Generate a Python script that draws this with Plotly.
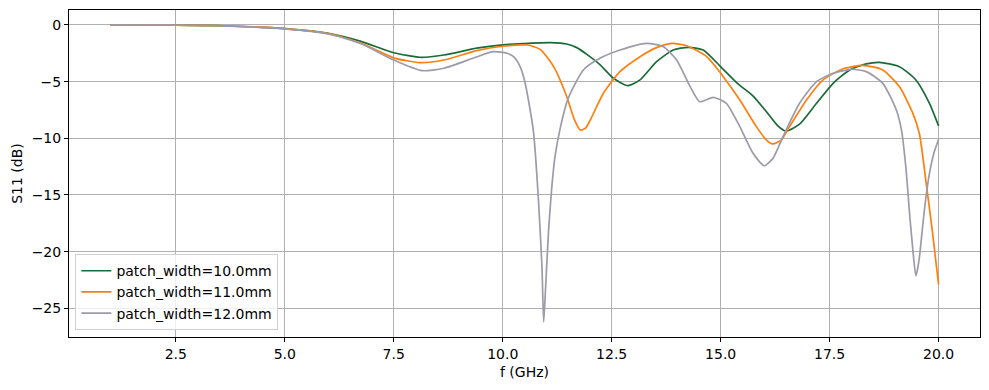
import plotly.graph_objects as go

# Frequency points (GHz) and S11 (dB) for each patch width
f_10 = [1.0, 2.5, 3.7, 5.0, 6.0, 6.75, 7.5, 8.1, 8.65, 9.4, 10.0, 10.5, 10.85, 11.1, 11.47, 11.7,
        11.93, 12.23, 12.54, 12.87, 13.15, 13.53, 13.91, 14.26, 14.6, 14.98, 15.4, 15.74, 16.05,
        16.3, 16.5, 16.81, 17.2, 17.58, 17.96, 18.34, 18.64, 19.1, 19.48, 19.79, 20.0]
s_10 = [0.0, -0.02, -0.09, -0.32, -0.74, -1.45, -2.45, -2.85, -2.65, -2.05, -1.75, -1.64, -1.58,
        -1.56, -1.68, -2.0, -2.6, -3.5, -4.7, -5.35, -4.85, -3.24, -2.21, -1.97, -2.21, -3.6,
        -5.2, -6.25, -7.65, -8.85, -9.36, -8.75, -6.91, -5.15, -3.97, -3.44, -3.3, -3.68, -4.85,
        -6.91, -8.9]

f_11 = [1.0, 2.5, 3.7, 5.0, 6.0, 6.75, 7.5, 8.1, 8.65, 9.4, 10.0, 10.56, 10.86, 11.17, 11.47,
        11.65, 11.78, 11.9, 12.01, 12.31, 12.69, 13.15, 13.53, 13.88, 14.22, 14.68, 15.06,
        15.44, 15.82, 16.05, 16.2, 16.39, 16.58, 16.97, 17.35, 17.8, 18.26, 18.72, 19.1, 19.41,
        19.56, 19.71, 19.86, 20.0]
s_11 = [0.0, -0.02, -0.09, -0.32, -0.76, -1.6, -2.9, -3.32, -3.09, -2.27, -1.88, -1.77, -2.15,
        -3.68, -6.33, -8.4, -9.27, -9.1, -8.38, -6.03, -4.12, -2.8, -2.0, -1.62, -1.83, -2.8,
        -4.56, -6.62, -8.97, -10.15, -10.5, -10.15, -8.97, -6.62, -4.85, -3.88, -3.56, -3.97,
        -5.44, -7.8, -9.6, -13.8, -18.3, -22.9]

f_12 = [1.0, 2.5, 3.7, 5.0, 6.0, 6.75, 7.5, 8.15, 8.65, 9.41, 9.79, 10.1, 10.25, 10.4, 10.5,
        10.59, 10.71, 10.82, 10.9, 10.94, 10.98, 11.05, 11.12, 11.2, 11.32, 11.5, 11.85, 12.23,
        12.69, 13.3, 13.68, 13.99, 14.3, 14.52, 14.83, 15.13, 15.44, 15.74, 16.0, 16.2, 16.43,
        16.81, 17.2, 17.58, 18.0, 18.34, 18.72, 19.03, 19.15, 19.25, 19.34, 19.41, 19.48, 19.55,
        19.62, 19.7, 19.8, 19.9, 20.0]
s_12 = [0.0, -0.02, -0.1, -0.35, -0.8, -1.65, -3.09, -4.03, -3.82, -2.8, -2.36, -2.5, -2.8,
        -3.68, -4.9, -6.62, -9.56, -15.45, -21.3, -26.2, -23.5, -18.3, -14.6, -11.6, -9.1,
        -6.5, -3.97, -2.94, -2.21, -1.62, -1.91, -3.09, -5.44, -6.77, -6.38, -6.91, -8.97,
        -11.3, -12.42, -11.77, -9.86, -6.91, -5.0, -4.27, -3.91, -4.12, -5.15, -7.5, -9.3,
        -12.6, -16.9, -19.86, -22.15, -20.8, -18.3, -15.5, -12.9, -11.2, -10.1]

names = ["patch_width=10.0mm", "patch_width=11.0mm", "patch_width=12.0mm"]
colors = ["#1b6b37", "#ff7f0e", "#9b9bab"]

x_ticks = [2.5, 5.0, 7.5, 10.0, 12.5, 15.0, 17.5, 20.0]
y_ticks = [0, -5, -10, -15, -20, -25]

fig = go.Figure()
for fx, sy, nm, c in zip([f_10, f_11, f_12], [s_10, s_11, s_12], names, colors):
    fig.add_trace(go.Scatter(x=fx, y=sy, mode="lines", name=nm,
                             line=dict(color=c, width=1.7, shape="spline", smoothing=0.6)))

font = "DejaVu Sans"
axis_common = dict(showline=True, linecolor="black", linewidth=1, mirror=True,
                   ticks="outside", ticklen=4, tickwidth=1, tickcolor="black",
                   showgrid=True, gridcolor="#b0b0b0", gridwidth=1, zeroline=False,
                   automargin=False,
                   tickfont=dict(family=font, size=14, color="black"))

# The page body has an 8px default margin, so the figure is sized to fit the window.
fig.update_layout(
    width=981, height=382,
    margin=dict(l=61, r=9, t=2, b=53),
    paper_bgcolor="white", plot_bgcolor="white",
    font=dict(family=font, size=14, color="black"),
    showlegend=True,
    legend=dict(x=0.007, y=0.021, xanchor="left", yanchor="bottom",
                bgcolor="rgba(255,255,255,0.8)", bordercolor="#d0d0d0", borderwidth=1,
                font=dict(family=font, size=14), itemwidth=30, tracegroupgap=0),
    xaxis=dict(range=[0.05, 20.95], tickvals=x_ticks, tickformat=".1f",
               title=dict(text="f (GHz)", font=dict(family=font, size=14), standoff=6),
               **axis_common),
    yaxis=dict(range=[-27.53, 1.32], tickvals=y_ticks,
               title=dict(text="S11 (dB)", font=dict(family=font, size=14), standoff=5),
               **axis_common),
)

fig.write_html("out.html")
